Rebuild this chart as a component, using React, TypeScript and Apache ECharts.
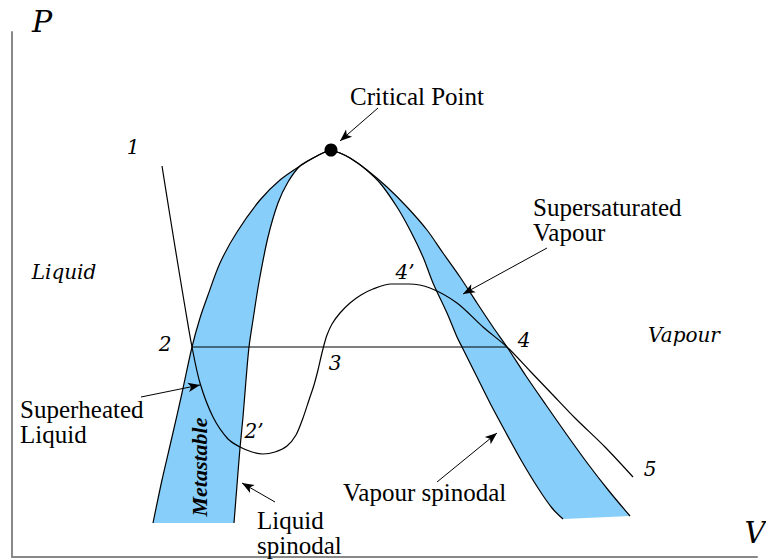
import React, { useEffect, useRef } from 'react';
import * as echarts from 'echarts';

type Pt = [number, number];

// Coexistence (binodal) curve, liquid branch: bottom -> critical point (V, P)
const binodalLeft: Pt[] = [
  [141, 34], [150, 77], [160, 120], [170, 164], [180, 210], [188, 239], [196, 262],
  [208, 294], [225, 325], [248, 357], [268, 377], [288, 391], [303, 400], [313, 405], [319, 407],
];
// Liquid spinodal: critical point -> bottom
const spinodalLeft: Pt[] = [
  [319, 407], [313, 405], [303, 400], [288, 391], [276, 375], [266, 354], [256, 320],
  [247, 275], [241, 237], [237, 210], [234, 177], [231, 140], [228, 109], [225, 72], [222, 34],
];
// Binodal, vapour branch: critical point -> bottom
const binodalRight: Pt[] = [
  [319, 407], [328, 404], [338, 399], [355, 387], [375, 370], [395, 350], [415, 327],
  [431, 304], [448, 280], [465, 254], [481, 230], [495, 210], [514, 181], [534, 152],
  [555, 122], [576, 93], [597, 66], [618, 41],
];
// Vapour spinodal: critical point -> bottom
const spinodalRight: Pt[] = [
  [319, 407], [328, 404], [338, 399], [351, 390], [368, 374], [385, 350], [398, 327],
  [411, 300], [421, 274], [435, 244], [445, 220], [450, 210], [464, 182], [478, 154],
  [493, 126], [509, 97], [526, 69], [540, 49], [551, 38],
];
// Van der Waals isotherm 1 -> 5
const isotherm: Pt[] = [
  [150, 391], [158, 341], [166, 292], [173, 250], [180, 210], [188, 174], [201, 140],
  [216, 118], [228, 110], [240, 105], [251, 103], [263, 105], [275, 111], [284, 122],
  [291, 139], [297, 157], [302, 172], [306, 187], [309, 200], [312, 212], [315, 222],
  [320, 233], [328, 244], [338, 254], [349, 262], [361, 268], [379, 273], [397, 273],
  [418, 269], [445, 254], [471, 230], [495, 210], [518, 186], [540, 163], [563, 139],
  [593, 110], [621, 80],
];
// Maxwell tie line 2 -> 4
const tieLine: Pt[] = [[180, 210], [495, 210]];
const criticalPoint: Pt[] = [[319, 407]];

// Annotation arrows [from, to]
const arrows: [Pt, Pt][] = [
  [[366, 449], [328, 416]],
  [[535, 309], [451, 263]],
  [[129, 160], [188, 172]],
  [[263, 55], [230, 74]],
  [[425, 75], [485, 124]],
];

const FILL = '#87cefa';
const ITAL = '"DejaVu Serif", serif';
const ROM = '"Liberation Serif", "Times New Roman", serif';

export default function App() {
  const ref = useRef<HTMLDivElement>(null);
  useEffect(() => {
    const chart = echarts.init(ref.current!, null, { renderer: 'svg' });

    const leftPoly: Pt[] = [...binodalLeft, ...spinodalLeft];
    const rightPoly: Pt[] = [...binodalRight, ...[...spinodalRight].reverse()];

    const lineSeries = (data: Pt[], smooth: number) => ({
      type: 'line',
      data,
      smooth,
      symbol: 'none',
      silent: true,
      lineStyle: { color: '#000', width: 1.2 },
      emphasis: { disabled: true },
      z: 3,
    });

    const txt = (
      text: string, x: number, y: number, font: string,
      align = 'center', extra: any = {}, lineHeight?: number,
    ) => ({
      type: 'text',
      x,
      y,
      z: 100,
      ...extra,
      style: {
        text,
        font,
        fill: '#000',
        align,
        verticalAlign: 'middle',
        textAlign: align,
        textVerticalAlign: 'middle',
        ...(lineHeight ? { lineHeight } : {}),
      },
    });

    const option: any = {
      animation: false,
      grid: { left: 12, right: 9, top: 32, bottom: 3 },
      xAxis: {
        type: 'value', min: 0, max: 745,
        axisLine: { show: true, lineStyle: { color: '#888', width: 2 } },
        axisTick: { show: false }, axisLabel: { show: false }, splitLine: { show: false },
      },
      yAxis: {
        type: 'value', min: 0, max: 525,
        axisLine: { show: true, lineStyle: { color: '#888', width: 2 } },
        axisTick: { show: false }, axisLabel: { show: false }, splitLine: { show: false },
      },
      series: [
        {
          type: 'custom',
          silent: true,
          data: [[0, 0]],
          z: 1,
          renderItem: (_p: any, api: any) => ({
            type: 'group',
            children: [
              { type: 'polygon', shape: { points: leftPoly.map((p) => api.coord(p)) }, style: { fill: FILL } },
              { type: 'polygon', shape: { points: rightPoly.map((p) => api.coord(p)) }, style: { fill: FILL } },
            ],
          }),
        },
        lineSeries(binodalLeft, 0.3),
        lineSeries(spinodalLeft, 0.3),
        lineSeries(binodalRight, 0.3),
        lineSeries(spinodalRight, 0.3),
        lineSeries(isotherm, 0.3),
        {
          ...lineSeries(tieLine, 0),
          markLine: {
            silent: true,
            animation: false,
            symbol: ['none', 'arrow'],
            symbolSize: [7, 12],
            label: { show: false },
            lineStyle: { color: '#000', width: 1, type: 'solid' },
            emphasis: { disabled: true },
            data: arrows.map(([a, b]) => [{ coord: a }, { coord: b }]),
          },
        },
        {
          type: 'scatter',
          data: criticalPoint,
          symbolSize: 13,
          itemStyle: { color: '#000', opacity: 1 },
          silent: true,
          z: 5,
        },
      ],
      graphic: [
        txt('P', 42, 21, `italic 30px ${ITAL}`),
        txt('V', 755, 533, `italic 29px ${ITAL}`),
        txt('1', 133, 147, `italic 20px ${ITAL}`),
        txt('2', 165, 344, `italic 20px ${ITAL}`),
        txt('3', 335, 363, `italic 20px ${ITAL}`),
        txt('4', 524, 340, `italic 20px ${ITAL}`),
        txt('4’', 405, 272, `italic 20px ${ITAL}`),
        txt('5', 650, 469, `italic 20px ${ITAL}`),
        txt('2’', 254, 431, `italic 20px ${ITAL}`),
        txt('Liquid', 64, 272, `italic 20px ${ITAL}`),
        txt('Vapour', 684, 335, `italic 20px ${ITAL}`),
        txt('Critical Point', 417, 96, `25px ${ROM}`),
        txt('Supersaturated\nVapour', 533, 220, `25px ${ROM}`, 'left', {}, 25),
        txt('Superheated\nLiquid', 20, 422, `25px ${ROM}`, 'left', {}, 25),
        txt('Liquid\nspinodal', 257, 533, `25px ${ROM}`, 'left', {}, 25),
        txt('Vapour spinodal', 343, 492, `25px ${ROM}`, 'left'),
        txt('Metastable', 199, 467, `italic bold 22px ${ROM}`, 'center', { rotation: Math.PI / 2 }),
      ],
    };
    chart.setOption(option);
    return () => chart.dispose();
  }, []);
  return <div ref={ref} style={{ position: 'absolute', left: 0, top: 0, width: 766, height: 560 }} />;
}
